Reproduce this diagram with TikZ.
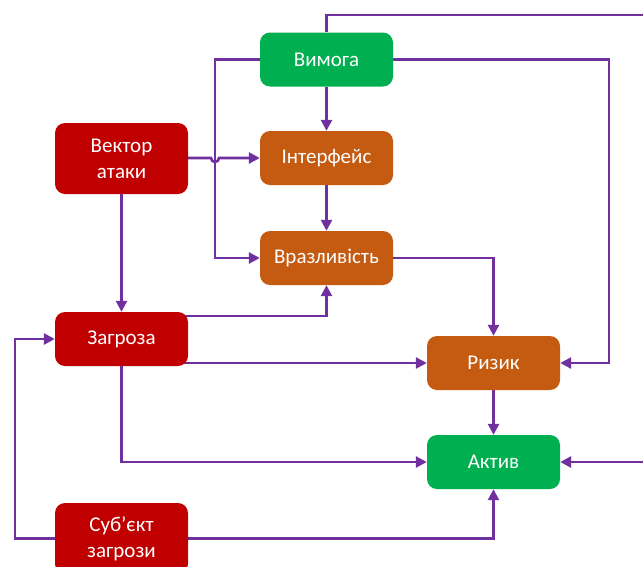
\documentclass[tikz,border=0pt]{standalone}
\usepackage{fontspec}
\setmainfont{Carlito}
\usetikzlibrary{arrows.meta,backgrounds}
\definecolor{cgreen}{HTML}{00B050}
\definecolor{cred}{HTML}{C00000}
\definecolor{corange}{HTML}{C55A11}
\definecolor{cpurple}{HTML}{7030A0}
\tikzset{
  box/.style={rounded corners=10pt, minimum width=133pt, minimum height=54pt, inner sep=2pt,
    text=white, font=\fontsize{21}{26}\selectfont, align=center},
  gbox/.style={box, fill=cgreen},
  rbox/.style={box, fill=cred},
  obox/.style={box, fill=corange},
  conn/.style={draw=cpurple, line width=2.6pt},
  arr/.style={conn, -{Triangle[length=11pt,width=11pt]}},
}
\begin{document}
\begin{tikzpicture}[x=1pt,y=-1pt]
\useasboundingbox (0,0) rectangle (643,566);
\node[gbox] (vim) at (326.5,59.5) {Вимога};
\node[rbox, minimum height=71pt] (vek) at (121.5,158.5) {Вектор\\атаки};
\node[obox] (int) at (326.5,158) {Інтерфейс};
\node[obox] (vra) at (326.5,258) {Вразливість};
\node[rbox] (zag) at (121.5,339) {Загроза};
\node[obox] (riz) at (493.5,363) {Ризик};
\node[gbox] (akt) at (493.5,462) {Актив};
\node[rbox, minimum height=71pt] (sub) at (121.5,538.5) {Суб’єкт\\загрози};
\begin{scope}[on background layer]
\coordinate (offtop) at (680,15);
\coordinate (offright) at (680,462);
\draw[conn] (vim.north) -- (vim.north |- offtop) -- (offtop) -- (offright);
\draw[arr] (offright) -- (akt.east);
\draw[arr] (vim.east) -- (609,59.5) -- (609,363) -- (riz.east);
\draw[arr] (vim.west) -- (215,59.5) -- (215,258) -- (vra.west);
\draw[arr] (vim.south) -- (int.north);
\draw[arr] (int.south) -- (vra.north);
\draw[arr] (vek.east |- int.west) -- (211,158) arc[start angle=180,end angle=0,radius=4] -- (int.west);
\draw[arr] (vek.south) -- (zag.north);
\draw[arr] (zag.center |- 0,316) -- (vra.south |- 0,316) -- (vra.south);
\draw[arr] (zag.center |- riz.west) -- (riz.west);
\draw[arr] (zag.south) -- (zag.south |- akt.west) -- (akt.west);
\draw[arr] (sub.west) -- (15,538.5) -- (15,339) -- (zag.west);
\draw[arr] (sub.east) -- (akt.south |- sub.east) -- (akt.south);
\draw[arr] (vra.east) -- (riz.north |- vra.east) -- (riz.north);
\draw[arr] (riz.south) -- (akt.north);
\end{scope}
\end{tikzpicture}
\end{document}
